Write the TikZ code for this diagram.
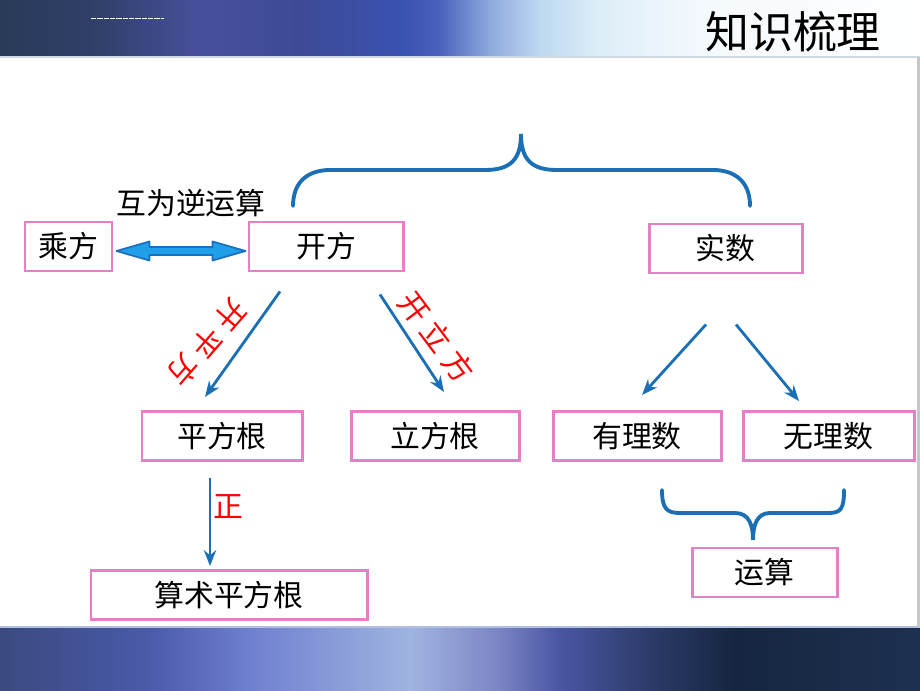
\documentclass[tikz,border=0pt]{standalone}
\usepackage{fontspec}
\setmainfont{Noto Sans CJK SC}
\usetikzlibrary{arrows.meta,calc}

\definecolor{boxpink}{HTML}{E57FC6}
\definecolor{linkblue}{HTML}{1B6FB6}
\definecolor{arrowfill}{HTML}{20A0E8}
\definecolor{arrowedge}{HTML}{1A70C0}

\begin{document}
\begin{tikzpicture}
[boxdecorate/.style={shape=rectangle,draw=boxpink,line width=1.7pt,
   minimum height=0.98cm,inner sep=0pt,font=\fontsize{17pt}{17pt}\selectfont},%
  arrowdecorate/.style={-{Stealth[length=9pt,width=7pt]},linkblue,line width=1.6pt},%
  bracedecorate/.style={linkblue,line width=2.2pt,line cap=round},%
  labeldecorate/.style={text=red,inner sep=0pt,
   font=\fontsize{17pt}{17pt}\selectfont\addfontfeature{LetterSpace=22}}]
\useasboundingbox (0,0) rectangle (18.4,13.8);
%% title bar and footer bar
\foreach \xa/\xb/\ca/\cb in {0/2/2A3A58/30406A, 2/4/30406A/48509C,
  4/6/48509C/3E4A96, 6/8/3E4A96/3A52B0, 8/8.8/3A52B0/4A62BC,
  8.8/9.8/4A62BC/8EAADC, 9.8/10.8/8EAADC/BDD8F0, 10.8/12/BDD8F0/DDEEF8,
  12/14/DDEEF8/F4F9FD, 14/18.4/F4F9FD/FFFFFF}
{
  \definecolor{ca}{HTML}{\ca}\definecolor{cb}{HTML}{\cb}
  \shade[left color=ca,right color=cb] (\xa-0.01,12.66) rectangle (\xb,13.8);
}
\foreach \xa/\xb/\ca/\cb in {0/2.94/3A4A80/4A5AA8, 2.94/5.04/4A5AA8/7080D0,
  5.04/8.22/7080D0/A0B4E0, 8.22/9.98/A0B4E0/7C84C4, 9.98/11.14/7C84C4/4A58A4,
  11.14/12.9/4A58A4/2E3C6C, 12.9/14.68/2E3C6C/162640, 14.68/18.4/162640/1E3050}
{
  \definecolor{ca}{HTML}{\ca}\definecolor{cb}{HTML}{\cb}
  \shade[left color=ca,right color=cb] (\xa-0.01,0) rectangle (\xb,1.26);
}
\draw[line width=0.8pt,color={rgb,255:red,176;green,192;blue,224}] (0,1.26) -- (18.4,1.26);
\draw[line width=0.6pt,color={rgb,255:red,208;green,216;blue,224}] (0,12.66) -- (18.4,12.66);
\fill[black!22] (18.34,1.26) rectangle (18.4,12.66);
\draw[white,line width=0.5pt,dash pattern=on 3pt off 0.6pt] (1.82,13.44) -- (3.28,13.44);
\node (title) at (15.86,13.16) [font=\fontsize{25pt}{25pt}\selectfont] {知识梳理};
%% nodes or vertices
\foreach \nodename/\x/\y/\w/\txt in {cf/1.37/8.87/1.74/乘方,
  kf/6.52/8.87/3.08/开方, ss/14.51/8.83/3.06/实数,
  pfg/4.44/5.08/3.2/平方根, lfg/8.70/5.08/3.36/立方根,
  yls/12.74/5.08/3.36/有理数, wls/16.57/5.08/3.42/无理数,
  sspfg/4.58/1.90/5.52/算术平方根, ys/15.29/2.35/2.9/运算}
{
  \node (\nodename) at (\x,\y) [boxdecorate,minimum width=\w cm] {\txt};
}
\node (hwny) at (3.82,9.74) [font=\fontsize{17pt}{17pt}\selectfont] {互为逆运算};
%% labels on the arrows
\foreach \nodename/\x/\y/\angle/\txt in {kpf/4.14/6.94/229/开平方,
  klf/8.74/7.06/-53/开立方, zheng/4.56/3.66/0/正}
{
  \node (\nodename) at (\x,\y) [labeldecorate,rotate=\angle] {\txt};
}
%% double arrow between 乘方 and 开方
\coordinate (dl) at ([xshift=0.06cm,yshift=-0.09cm]cf.east);
\coordinate (dr) at ([xshift=-0.04cm,yshift=-0.09cm]kf.west);
\filldraw[fill=arrowfill,draw=arrowedge,line width=1pt,line join=round]
  (dl) -- ++(0.66,0.19) -- ++(0,-0.11) -- ($(dr)+(-0.66,0.08)$) -- ++(0,0.11)
  -- (dr) -- ++(-0.66,-0.19) -- ++(0,0.11) -- ($(dl)+(0.66,-0.08)$) -- ++(0,-0.11) -- cycle;
%% edges or lines
\path
\foreach \startnode/\sx/\sy/\endnode/\ex/\ey in {kf.south/-0.92/-0.38/pfg.north/-0.34/0.26,
  kf.south/1.08/-0.44/lfg.north/0.18/0.36, ss.south/-0.39/-1.0/yls.north/0.10/0.30,
  ss.south/0.21/-1.0/wls.north/-0.59/0.18, pfg.south/-0.24/-0.32/sspfg.north/-0.38/0.06}
{
  ([xshift=\sx cm,yshift=\sy cm]\startnode) edge[arrowdecorate] ([xshift=\ex cm,yshift=\ey cm]\endnode)
};
%% braces
\draw[bracedecorate] (5.86,9.68) .. controls (5.86,10.2) and (6.2,10.4) .. (6.6,10.4)
  -- (9.7,10.4) .. controls (10.2,10.4) and (10.42,10.6) .. (10.42,11.12)
  .. controls (10.42,10.6) and (10.64,10.4) .. (11.14,10.4) -- (14.26,10.4)
  .. controls (14.66,10.4) and (15.0,10.2) .. (15.0,9.68);
\draw[bracedecorate] (13.24,4.0) .. controls (13.24,3.62) and (13.34,3.54) .. (13.6,3.54)
  -- (14.7,3.54) .. controls (14.98,3.54) and (15.06,3.3) .. (15.06,3.0)
  .. controls (15.06,3.3) and (15.14,3.54) .. (15.4,3.54) -- (16.56,3.54)
  .. controls (16.82,3.54) and (16.88,3.62) .. (16.88,4.0);
\end{tikzpicture}
\end{document}
